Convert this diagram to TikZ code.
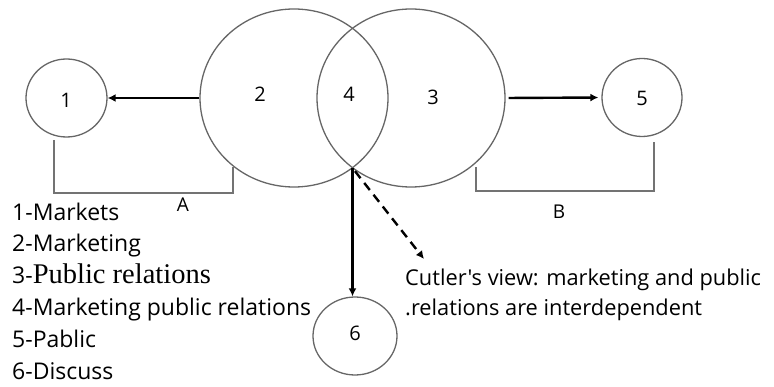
\documentclass[tikz,border=0pt]{standalone}
\usepackage{fontspec}
\setmainfont{Open Sans}[Ligatures=TeXOff]
\newfontfamily\serifpart{Liberation Serif}
\usetikzlibrary{arrows.meta,shapes.geometric}
\begin{document}
\begin{tikzpicture}[x=1pt,y=-1pt,
  bubble/.style={draw=black!60, line width=1.3pt, ellipse, inner sep=0pt},
  num/.style={font=\fontsize{20}{24}\selectfont, inner sep=0pt},
  bracketline/.style={draw=black!55, line width=1.6pt},
  arrowline/.style={draw=black, line width=2.4pt, -{Latex[length=8pt,width=8pt]}},
  dashline/.style={arrowline, dash pattern=on 9pt off 6pt},
  legend/.style={anchor=base west, inner sep=0pt, font=\fontsize{23}{26}\selectfont},
  note/.style={anchor=base west, inner sep=0pt, font=\fontsize{21.8}{26}\selectfont}]
\useasboundingbox (0,0) rectangle (774,387);
% circles
\node[bubble, minimum width=81pt, minimum height=78pt] (c1) at (66.5,98) {};
\node[bubble, minimum width=188pt, minimum height=178pt] (c2) at (294,98) {};
\node[bubble, minimum width=188pt, minimum height=178pt] (c3) at (411,98) {};
\node[bubble, minimum width=80pt, minimum height=78pt] (c5) at (642,97.5) {};
\node[bubble, minimum width=84pt, minimum height=78pt] (c6) at (355,336) {};
% labels
\node[num] (l1) at (66,100) {1};
\node[num] (l2) at (260,94) {2};
\node[num] (l4) at (349,94) {4};
\node[num] (l3) at (433,97) {3};
\node[num] (l5) at (642,98) {5};
\node[num] (l6) at (355,333) {6};
% arrows
\draw[arrowline] (c2.west) -- (c1.east);
\draw[arrowline, shorten <=3pt, shorten >=3pt] (c3.east) -- (c5.west);
\coordinate (ix) at (352.5,168);
\draw[arrowline] (ix) -- (ix |- c6.north);
\coordinate (dend) at (424,259);
\draw[dashline, shorten <=4pt] (ix) -- (dend);
% brackets
\coordinate (a1) at (54,140);
\coordinate (a2) at (233,167);
\draw[bracketline] (a1) -- (54,193) -- (233,193) -- (a2);
\coordinate (b1) at (476,167);
\coordinate (b2) at (654,142);
\draw[bracketline] (b1) -- (476,191) -- (654,191) -- (b2);
\node[num, font=\fontsize{19}{22}\selectfont] (la) at (183,205) {A};
\node[num, font=\fontsize{19}{22}\selectfont] (lb) at (559,212) {B};
% legend
\node[legend] (g1) at (12,221) {1-Markets};
\node[legend] (g2) at (12,252) {2-Marketing};
\node[legend] (g3) at (12,284) {3-{\serifpart\fontsize{28.5}{30}\selectfont Public relations}};
\node[legend] (g4) at (12,316) {4-Marketing public relations};
\node[legend] (g5) at (12,348) {5-Pablic};
\node[legend] (g6) at (12,380) {6-Discuss};
% note
\node[note] (n1) at (405,286) {Cutler's view: marketing and public};
\node[note] (n2) at (405,316) {.relations are interdependent};
\end{tikzpicture}
\end{document}
